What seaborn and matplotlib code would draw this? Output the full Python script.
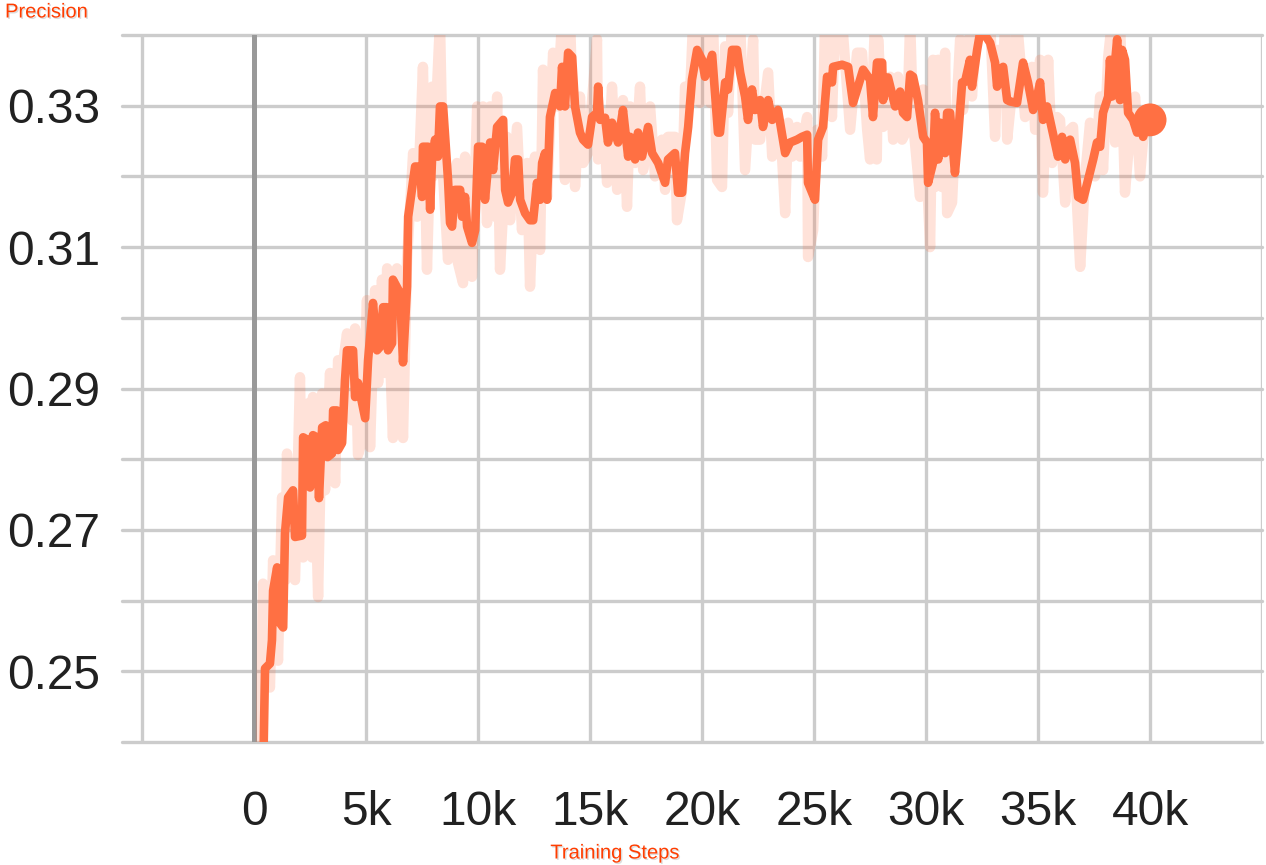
import seaborn as sns
import matplotlib.pyplot as plt
import matplotlib.patheffects as pe
import pandas as pd

# smoothed curve (training step, precision)
steps_smooth = [350, 490, 710, 800, 850, 1030, 1160, 1300, 1380, 1520, 1740, 1830, 2140, 2190, 2410, 2500,
                2630, 2800, 2900, 3040, 3200, 3280, 3480, 3530, 3700, 3750, 3930, 4060, 4150, 4420, 4510,
                4640, 4960, 5090, 5310, 5490, 5630, 5760, 5920, 5980, 6160, 6200, 6520, 6650, 6830, 6880,
                7190, 7410, 7500, 7540, 7770, 7860, 7950, 8080, 8210, 8300, 8440, 8660, 8750, 8840, 8970,
                9200, 9290, 9420, 9510, 9730, 9870, 10000, 10180, 10310, 10540, 10670, 10850, 11120, 11210,
                11340, 11520, 11650, 11790, 11880, 12100, 12320, 12460, 12630, 12770, 12860, 12990, 13080,
                13210, 13440, 13660, 13750, 13880, 14020, 14200, 14330, 14550, 14690, 14910, 15090, 15310,
                15360, 15450, 15670, 15800, 15980, 16250, 16470, 16700, 16790, 17010, 17140, 17320, 17590,
                17770, 18040, 18350, 18480, 18790, 18930, 19110, 19240, 19380, 19550, 19780, 20000, 20130,
                20450, 20710, 20800, 21030, 21160, 21340, 21560, 21700, 21920, 22050, 22230, 22370, 22590,
                22720, 22950, 23130, 23390, 23710, 23930, 24240, 24460, 24690, 24730, 25040, 25180, 25400,
                25580, 25800, 25850, 26250, 26520, 26740, 27190, 27500, 27630, 27810, 28040, 28080, 28300,
                28620, 28840, 28970, 29150, 29290, 29420, 29640, 29870, 30040, 30090, 30310, 30400, 30540,
                30630, 30850, 30940, 31070, 31290, 31430, 31610, 31740, 31960, 32050, 32280, 32410, 32630,
                32860, 33080, 33170, 33300, 33440, 33620, 33750, 34060, 34330, 34550, 34780, 34960, 35090,
                35220, 35400, 35630, 35890, 36070, 36210, 36430, 36650, 36790, 37010, 37230, 37460, 37630,
                37770, 37900, 38130, 38210, 38300, 38530, 38660, 38750, 38880, 39020, 39240, 39420, 39550,
                39690, 39870, 40000]
precision_smooth = [0.2250, 0.2504, 0.2511, 0.2544, 0.2614, 0.2647, 0.2568, 0.2562, 0.2695, 0.2746, 0.2756,
                    0.2690, 0.2692, 0.2831, 0.2827, 0.2760, 0.2834, 0.2831, 0.2745, 0.2845, 0.2848, 0.2803,
                    0.2808, 0.2869, 0.2869, 0.2813, 0.2823, 0.2912, 0.2954, 0.2954, 0.2888, 0.2908, 0.2858,
                    0.2940, 0.3021, 0.2954, 0.2959, 0.3015, 0.3015, 0.2954, 0.2964, 0.3054, 0.3035, 0.2937,
                    0.3044, 0.3143, 0.3214, 0.3214, 0.3171, 0.3242, 0.3242, 0.3153, 0.3228, 0.3252, 0.3228,
                    0.3299, 0.3299, 0.3195, 0.3134, 0.3129, 0.3181, 0.3181, 0.3143, 0.3171, 0.3129, 0.3106,
                    0.3124, 0.3242, 0.3242, 0.3167, 0.3248, 0.3209, 0.3270, 0.3280, 0.3181, 0.3163, 0.3177,
                    0.3224, 0.3224, 0.3167, 0.3148, 0.3138, 0.3138, 0.3191, 0.3167, 0.3219, 0.3233, 0.3167,
                    0.3284, 0.3318, 0.3299, 0.3355, 0.3299, 0.3375, 0.3369, 0.3299, 0.3262, 0.3252, 0.3245,
                    0.3284, 0.3290, 0.3327, 0.3280, 0.3283, 0.3248, 0.3276, 0.3248, 0.3294, 0.3228, 0.3256,
                    0.3224, 0.3262, 0.3228, 0.3270, 0.3233, 0.3219, 0.3191, 0.3224, 0.3233, 0.3177, 0.3177,
                    0.3233, 0.3270, 0.3337, 0.3379, 0.3365, 0.3341, 0.3372, 0.3262, 0.3262, 0.3333, 0.3323,
                    0.3379, 0.3379, 0.3347, 0.3313, 0.3280, 0.3323, 0.3294, 0.3308, 0.3270, 0.3308, 0.3280,
                    0.3294, 0.3233, 0.3248, 0.3252, 0.3256, 0.3259, 0.3191, 0.3167, 0.3252, 0.3270, 0.3341,
                    0.3333, 0.3355, 0.3358, 0.3355, 0.3304, 0.3351, 0.3337, 0.3284, 0.3361, 0.3361, 0.3308,
                    0.3340, 0.3299, 0.3320, 0.3290, 0.3284, 0.3344, 0.3341, 0.3308, 0.3256, 0.3248, 0.3191,
                    0.3219, 0.3290, 0.3224, 0.3276, 0.3233, 0.3290, 0.3290, 0.3205, 0.3256, 0.3333, 0.3334,
                    0.3365, 0.3327, 0.3379, 0.3403, 0.3400, 0.3389, 0.3361, 0.3327, 0.3351, 0.3355, 0.3308,
                    0.3306, 0.3304, 0.3361, 0.3333, 0.3294, 0.3313, 0.3333, 0.3280, 0.3299, 0.3266, 0.3228,
                    0.3256, 0.3224, 0.3252, 0.3219, 0.3171, 0.3167, 0.3195, 0.3224, 0.3248, 0.3242, 0.3290,
                    0.3313, 0.3365, 0.3313, 0.3394, 0.3308, 0.3379, 0.3365, 0.3290, 0.3280, 0.3262, 0.3284,
                    0.3256, 0.3276, 0.3280]

# raw (unsmoothed) curve
steps_raw = [270, 330, 400, 550, 710, 850, 1070, 1250, 1400, 1470, 1830, 2050, 2190, 2410, 2590, 2630, 2860,
             3040, 3170, 3390, 3620, 3750, 3930, 4150, 4370, 4510, 4640, 4820, 5040, 5180, 5400, 5540, 5710,
             5850, 5940, 6200, 6380, 6650, 6830, 7100, 7280, 7540, 7720, 7950, 7990, 8300, 8440, 8660, 8840,
             9060, 9100, 9330, 9420, 9730, 9960, 10090, 10220, 10400, 10540, 10760, 10850, 10980, 11290,
             11430, 11740, 11960, 12190, 12320, 12540, 12770, 12900, 13080, 13350, 13530, 13750, 13880,
             14110, 14330, 14550, 14690, 14910, 15090, 15310, 15360, 15580, 15760, 15980, 16210, 16470,
             16650, 16790, 17010, 17230, 17370, 17680, 17900, 18210, 18350, 18480, 18790, 18880, 19110,
             19240, 19460, 19600, 19910, 20040, 20360, 20490, 20670, 20890, 21030, 21160, 21340, 21700,
             21920, 22280, 22370, 22590, 22950, 23130, 23350, 23570, 23710, 23840, 24020, 24240, 24380,
             24690, 24730, 24960, 25130, 25360, 25490, 25800, 25940, 26250, 26610, 26920, 27140, 27370,
             27500, 27720, 27800, 27860, 28080, 28390, 28530, 28750, 28930, 29150, 29290, 29420, 29730,
             29870, 30180, 30310, 30400, 30540, 30710, 30850, 30940, 31160, 31290, 31520, 31650, 31880,
             32050, 32280, 32860, 33080, 33210, 33390, 33530, 33620, 33880, 34060, 34420, 34730, 34870,
             35090, 35220, 35450, 35630, 35850, 35980, 36210, 36430, 36560, 36880, 37100, 37320, 37540,
             37770, 37900, 38130, 38300, 38440, 38660, 38880, 39110, 39330, 39550, 39690, 39870, 40000]
precision_raw = [0.2300, 0.2477, 0.2624, 0.2520, 0.2477, 0.2657, 0.2515, 0.2746, 0.2629, 0.2808, 0.2629,
                 0.2916, 0.2661, 0.2879, 0.2661, 0.2888, 0.2605, 0.2893, 0.2756, 0.2922, 0.2766, 0.2940,
                 0.2926, 0.2978, 0.2855, 0.2985, 0.2806, 0.2827, 0.3025, 0.2817, 0.3039, 0.2908, 0.3054,
                 0.2922, 0.3070, 0.2830, 0.3070, 0.2830, 0.3082, 0.3233, 0.3143, 0.3355, 0.3068, 0.3327,
                 0.3200, 0.3420, 0.3200, 0.3082, 0.3185, 0.3219, 0.3078, 0.3049, 0.3228, 0.3058, 0.3299,
                 0.3214, 0.3299, 0.3134, 0.3299, 0.3143, 0.3313, 0.3068, 0.3256, 0.3138, 0.3270, 0.3124,
                 0.3219, 0.3044, 0.3228, 0.3096, 0.3351, 0.3171, 0.3375, 0.3299, 0.3420, 0.3195, 0.3420,
                 0.3185, 0.3313, 0.3219, 0.3233, 0.3308, 0.3394, 0.3224, 0.3290, 0.3191, 0.3327, 0.3181,
                 0.3308, 0.3157, 0.3299, 0.3219, 0.3327, 0.3209, 0.3299, 0.3200, 0.3252, 0.3181, 0.3256,
                 0.3256, 0.3138, 0.3181, 0.3327, 0.3313, 0.3420, 0.3304, 0.3420, 0.3304, 0.3420, 0.3195,
                 0.3185, 0.3384, 0.3290, 0.3420, 0.3420, 0.3209, 0.3394, 0.3252, 0.3252, 0.3347, 0.3228,
                 0.3294, 0.3228, 0.3148, 0.3276, 0.3228, 0.3270, 0.3228, 0.3284, 0.3086, 0.3124, 0.3266,
                 0.3228, 0.3420, 0.3284, 0.3420, 0.3420, 0.3266, 0.3375, 0.3375, 0.3266, 0.3224, 0.3420,
                 0.3224, 0.3394, 0.3270, 0.3341, 0.3252, 0.3341, 0.3252, 0.3266, 0.3420, 0.3276, 0.3171,
                 0.3323, 0.3100, 0.3365, 0.3185, 0.3365, 0.3185, 0.3375, 0.3148, 0.3163, 0.3252, 0.3394,
                 0.3294, 0.3394, 0.3313, 0.3420, 0.3420, 0.3256, 0.3379, 0.3313, 0.3420, 0.3252, 0.3333,
                 0.3420, 0.3284, 0.3355, 0.3266, 0.3365, 0.3177, 0.3365, 0.3219, 0.3284, 0.3280, 0.3163,
                 0.3266, 0.3270, 0.3072, 0.3200, 0.3276, 0.3200, 0.3313, 0.3209, 0.3369, 0.3420, 0.3248,
                 0.3420, 0.3177, 0.3266, 0.3313, 0.3200, 0.3252, 0.3290, 0.3280]

x_ticks = [-5000, 0, 5000, 10000, 15000, 20000, 25000, 30000, 35000, 40000, 45000]
x_tick_labels = ['', '0', '5k', '10k', '15k', '20k', '25k', '30k', '35k', '40k', '']
y_ticks = [0.24, 0.25, 0.26, 0.27, 0.28, 0.29, 0.30, 0.31, 0.32, 0.33, 0.34]
y_tick_labels = ['', '0.25', '', '0.27', '', '0.29', '', '0.31', '', '0.33', '']

orange = '#ff7043'
grid_grey = '#cccccc'

sns.set_style('white')
plt.rcParams['font.family'] = ['Liberation Sans', 'DejaVu Sans']

raw = pd.DataFrame({'step': steps_raw, 'value': precision_raw})
smooth = pd.DataFrame({'step': steps_smooth, 'value': precision_smooth})

fig = plt.figure(figsize=(12.66, 8.65), dpi=100)
ax = fig.add_axes([0.0964, 0.1422, 0.9005, 0.8173])

ax.axvline(0, color='#999999', lw=3.6, zorder=1)
sns.lineplot(data=raw, x='step', y='value', color=orange, alpha=0.2, lw=7.5,
             estimator=None, sort=False, ax=ax, zorder=2)
sns.lineplot(data=smooth, x='step', y='value', color=orange, lw=6.2,
             estimator=None, sort=False, ax=ax, zorder=3)
sns.scatterplot(data=smooth.tail(1), x='step', y='value', color=orange, s=560,
                edgecolor='none', ax=ax, zorder=4)

ax.set_xlim(-5893, 45000)
ax.set_ylim(0.24, 0.34)
ax.set_xticks(x_ticks)
ax.set_xticklabels(x_tick_labels)
ax.set_yticks(y_ticks)
ax.set_yticklabels(y_tick_labels)
ax.grid(True, color=grid_grey, lw=2.4)
ax.set_axisbelow(True)
for gl in ax.get_ygridlines():
    gl.set_clip_on(False)
for s in ax.spines.values():
    s.set_visible(False)
ax.tick_params(axis='x', length=14.4, width=2.2, color=grid_grey, pad=20,
               labelsize=34.5, labelcolor='#212121')
ax.tick_params(axis='y', length=0, pad=16, labelsize=34.5, labelcolor='#212121')
ax.set_xlabel('')
ax.set_ylabel('')

shadow = [pe.SimplePatchShadow(offset=(1, -1), shadow_rgbFace='#bbbbbb', alpha=0.5), pe.Normal()]
fig.text(5 / 1266, 1 - 12 / 865, 'Precision', color='#ff3d00', fontsize=14.5,
         ha='left', va='center', path_effects=shadow)
fig.text(615 / 1266, 1 - 853 / 865, 'Training Steps', color='#ff3d00', fontsize=14.5,
         ha='center', va='center', path_effects=shadow)

fig.savefig('out.png', dpi=100)
